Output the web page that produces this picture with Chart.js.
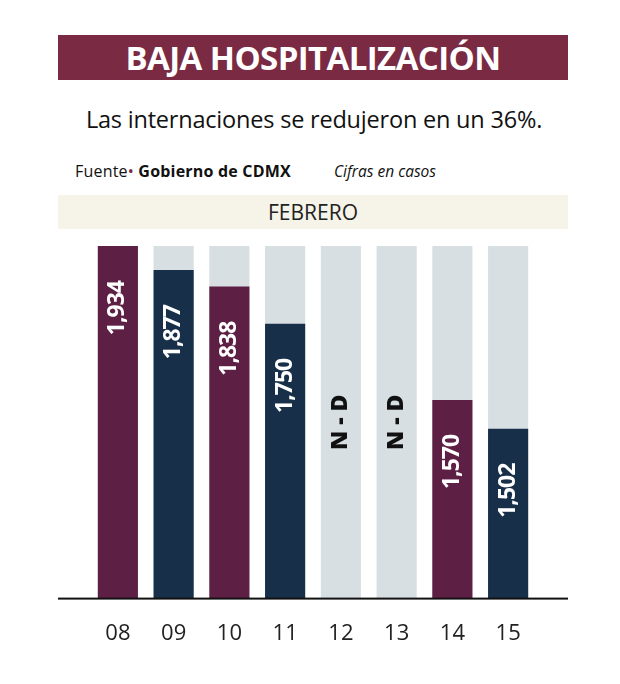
<!DOCTYPE html>
<html>
<head>
<meta charset="utf-8">
<script src="https://cdn.jsdelivr.net/npm/chart.js@4/dist/chart.umd.min.js"></script>
<style>
  body { margin:0; background:#fff; width:620px; height:684px; position:relative; font-family:"Open Sans", sans-serif; overflow:hidden; }
  #titulo { position:absolute; left:58px; top:35px; width:510px; height:45px; background:#7b2a43; color:#fff;
            font:700 33px "Open Sans", sans-serif; letter-spacing:-0.6px; text-align:center; line-height:45px; }
  #sub { position:absolute; left:0; width:628px; top:103px; text-align:center; font:400 23.5px "Open Sans", sans-serif; color:#111; letter-spacing:-0.2px; }
  #fuente { position:absolute; left:75px; top:160px; font:400 16px "Open Sans", sans-serif; color:#111; letter-spacing:0.2px; }
  #fuente b { font-weight:700; }
  #fuente .dot { color:#7b2a43; }
  #cifras { position:absolute; left:334px; top:160px; font:italic 400 15.5px "Open Sans", sans-serif; color:#111; }
  #mes { position:absolute; left:58px; top:195px; width:510px; height:34px; background:#f6f3e8; text-align:center;
         font:400 21px "Open Sans", sans-serif; line-height:34px; color:#222; }
  #caja { position:absolute; left:58px; top:232px; width:510px; height:437px; }
</style>
</head>
<body>
<div id="titulo">BAJA HOSPITALIZACIÓN</div>
<div id="sub">Las internaciones se redujeron en un 36%.</div>
<div id="fuente">Fuente<span class="dot">•</span> <b>Gobierno de CDMX</b></div>
<div id="cifras">Cifras en casos</div>
<div id="mes">FEBRERO</div>
<div id="caja"><canvas id="grafica"></canvas></div>
<script>
// datos (casos, febrero)
const dias = ['08', '09', '10', '11', '12', '13', '14', '15'];
const casos = [1934, 1877, 1838, 1750, null, null, 1570, 1502];
const colores = ['#5e1f45', '#172f48', '#5e1f45', '#172f48', '#5e1f45', '#172f48', '#5e1f45', '#172f48'];
const ejeMin = 1100;
const ejeMax = 1934;

const fondoBarras = {
  id: 'fondoBarras',
  beforeDatasetsDraw(chart) {
    const ctx = chart.ctx, area = chart.chartArea, x = chart.scales.x;
    const ancho = (area.right - area.left) / dias.length * 0.72;
    ctx.save();
    ctx.fillStyle = '#d8dfe3';
    dias.forEach((d, i) => {
      const cx = x.getPixelForValue(i);
      ctx.fillRect(cx - ancho / 2, area.top, ancho, area.bottom - area.top);
    });
    ctx.restore();
  },
  afterDatasetsDraw(chart) {
    const ctx = chart.ctx, area = chart.chartArea, x = chart.scales.x;
    const barras = chart.getDatasetMeta(0).data;
    ctx.save();
    // linea base
    ctx.fillStyle = '#111';
    ctx.fillRect(0, area.bottom - 1, chart.width, 2);
    ctx.textBaseline = 'middle';
    casos.forEach((v, i) => {
      const cx = x.getPixelForValue(i);
      ctx.save();
      if (v === null) {
        ctx.translate(cx, (area.top + area.bottom) / 2);
        ctx.rotate(-Math.PI / 2);
        ctx.textAlign = 'center';
        ctx.fillStyle = '#111';
        ctx.font = '800 23px "Open Sans"';
        ctx.fillText('N - D', 0, 0);
      } else {
        ctx.translate(cx, barras[i].y + 35);
        ctx.rotate(-Math.PI / 2);
        ctx.textAlign = 'right';
        ctx.fillStyle = '#fff';
        ctx.font = '700 23px "Open Sans"';
        ctx.letterSpacing = '-1px';
        ctx.fillText(v.toLocaleString('en-US'), 0, 0);
      }
      ctx.restore();
    });
    ctx.restore();
  }
};

new Chart(document.getElementById('grafica'), {
  type: 'bar',
  data: {
    labels: dias,
    datasets: [{
      data: casos,
      backgroundColor: colores,
      barPercentage: 0.72,
      categoryPercentage: 1,
      borderWidth: 0
    }]
  },
  options: {
    responsive: true,
    maintainAspectRatio: false,
    animation: false,
    layout: { padding: { left: 32, right: 32, top: 14, bottom: 8 } },
    plugins: { legend: { display: false }, tooltip: { enabled: false } },
    scales: {
      x: {
        grid: { display: false },
        border: { display: false },
        ticks: { color: '#222', font: { family: 'Open Sans', size: 22 }, padding: 14 }
      },
      y: { display: false, min: ejeMin, max: ejeMax }
    }
  },
  plugins: [fondoBarras]
});
</script>
</body>
</html>
